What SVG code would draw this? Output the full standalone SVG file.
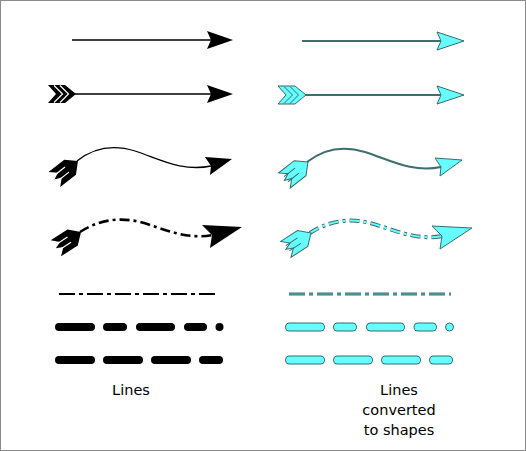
<svg xmlns="http://www.w3.org/2000/svg" width="526" height="451" viewBox="0 0 526 451">
<defs>
<style>
.bk{fill:#000}
.cy{fill:#66ffff;stroke:#3a6b6b;stroke-width:1}
.ln{fill:none;stroke:#000}
.tl{fill:none;stroke:#3f6e6e}
.cl{fill:none;stroke:#66ffff}
.wl{fill:none;stroke:#fff;stroke-width:1.2}
.gl{fill:none;stroke:#3a6b6b;stroke-width:1}
.lbl{font-family:"DejaVu Sans",Verdana,sans-serif;font-size:14.5px;fill:#000;text-anchor:middle}
</style>
<g id="fletchB">
<polygon points="0,0 -10,-9.5 -30,-9.5 -23,-3 -30,0 -23,3 -30,9.5 -10,9.5" class="bk"/>
<line x1="-30" y1="-3.2" x2="-14" y2="-3.2" class="wl"/>
<line x1="-30" y1="3.2" x2="-14" y2="3.2" class="wl"/>
</g>
<g id="fletchC">
<polygon points="0,0 -10,-9.5 -30,-9.5 -23,-3 -30,0 -23,3 -30,9.5 -10,9.5" class="cy"/>
<line x1="-28" y1="-3.2" x2="-14" y2="-3.2" class="gl"/>
<line x1="-28" y1="3.2" x2="-14" y2="3.2" class="gl"/>
</g>
</defs>
<rect x="0.5" y="0.5" width="525" height="450" fill="#fff" stroke="#8a8a8a"/>

<g id="connectors">
<line x1="72" y1="40" x2="211" y2="40" class="ln" stroke-width="1.3"/>
<line x1="74" y1="94" x2="211" y2="94" class="ln" stroke-width="1.3"/>
<path d="M77 161 C92 149,112 144,135 151 C160 159,182 172,211 166" class="ln" stroke-width="1.3"/>
<path d="M80 232 C95 222,116 216,140 222 C165 229,186 240,213 235" class="ln" stroke-width="2.6" stroke-dasharray="10 4 3 4"/>
<line x1="59" y1="294" x2="216" y2="294" class="ln" stroke-width="2" stroke-dasharray="16 4 4 4"/>
<g stroke="#000" stroke-width="8" stroke-linecap="round">
<line x1="59" y1="327" x2="91" y2="327"/>
<line x1="107" y1="327" x2="123" y2="327"/>
<line x1="140" y1="327" x2="171" y2="327"/>
<line x1="188" y1="327" x2="203" y2="327"/>
<line x1="59" y1="360" x2="91" y2="360"/>
<line x1="107" y1="360" x2="139" y2="360"/>
<line x1="155" y1="360" x2="187" y2="360"/>
<line x1="203" y1="360" x2="219" y2="360"/>
</g>
<circle cx="219.5" cy="327" r="4" fill="#000"/>

<line x1="302" y1="41" x2="441" y2="41" class="tl" stroke-width="2"/>
<line x1="304" y1="95" x2="441" y2="95" class="tl" stroke-width="2"/>
<path d="M307 162 C322 150,342 145,365 152 C390 160,412 173,441 167" class="tl" stroke-width="2"/>
<path d="M310 233 C325 223,346 217,370 223 C395 230,416 241,443 236" class="tl" stroke-width="4" stroke-dasharray="10 4 3 4"/>
<path d="M310 233 C325 223,346 217,370 223 C395 230,416 241,443 236" class="cl" stroke-width="2" stroke-dasharray="10 4 3 4"/>
<line x1="289" y1="294" x2="451" y2="294" class="tl" stroke-width="3" stroke-dasharray="16 4 4 4"/>
<line x1="289" y1="294" x2="451" y2="294" class="cl" stroke-width="1" stroke-dasharray="16 4 4 4" stroke-opacity="0.5"/>
<g stroke="#3a6b6b" stroke-width="9" stroke-linecap="round">
<line x1="289.5" y1="327" x2="320.5" y2="327"/>
<line x1="337.5" y1="327" x2="352.5" y2="327"/>
<line x1="370.5" y1="327" x2="400.5" y2="327"/>
<line x1="418" y1="327" x2="432.5" y2="327"/>
<line x1="289.5" y1="360" x2="320.5" y2="360"/>
<line x1="337.5" y1="360" x2="368.5" y2="360"/>
<line x1="385.5" y1="360" x2="416.5" y2="360"/>
<line x1="433.5" y1="360" x2="448.5" y2="360"/>
</g>
<g stroke="#66ffff" stroke-width="7" stroke-linecap="round">
<line x1="289.5" y1="327" x2="320.5" y2="327"/>
<line x1="337.5" y1="327" x2="352.5" y2="327"/>
<line x1="370.5" y1="327" x2="400.5" y2="327"/>
<line x1="418" y1="327" x2="432.5" y2="327"/>
<line x1="289.5" y1="360" x2="320.5" y2="360"/>
<line x1="337.5" y1="360" x2="368.5" y2="360"/>
<line x1="385.5" y1="360" x2="416.5" y2="360"/>
<line x1="433.5" y1="360" x2="448.5" y2="360"/>
</g>
<circle cx="449.5" cy="327" r="4" class="cy"/>
</g>

<g id="heads-left">
<polygon points="207,31 233,40 207,49 211,40" class="bk"/>
<polygon points="207,85 233,94 207,103 211,94" class="bk"/>
<polygon points="205,157 232,159 210,175 211,166" class="bk"/>
<polygon points="202,225 242,227 210,248 212,235" class="bk"/>
</g>
<g id="tails-left">
<polygon points="48,85 65,85 76,94 65,103 48,103 56,94" class="bk"/>
<polyline points="54,85.5 62.5,94 54,102.5" class="wl"/>
<polyline points="60,85.5 68.5,94 60,102.5" class="wl"/>
<use href="#fletchB" transform="translate(78,161) rotate(-38)"/>
<use href="#fletchB" transform="translate(81,232) rotate(-33)"/>
</g>

<g id="heads-right">
<polygon points="437,32 464,41 437,50 441,41" class="cy"/>
<polygon points="437,86 464,95 437,104 441,95" class="cy"/>
<polygon points="435,158 462,160 440,176 441,167" class="cy"/>
<polygon points="432,226 472,228 440,249 442,236" class="cy"/>
</g>
<g id="tails-right">
<polygon points="278,86 295,86 306,95 295,104 278,104 286,95" class="cy"/>
<polyline points="284,86.5 292.5,95 284,103.5" class="gl"/>
<polyline points="290,86.5 298.5,95 290,103.5" class="gl"/>
<use href="#fletchC" transform="translate(308,162) rotate(-38)"/>
<use href="#fletchC" transform="translate(311,233) rotate(-33)"/>
</g>

<g id="labels">
<text x="131" y="395" class="lbl">Lines</text>
<text x="399" y="395" class="lbl">Lines</text>
<text x="399" y="415" class="lbl">converted</text>
<text x="399" y="435" class="lbl">to shapes</text>
</g>
</svg>
